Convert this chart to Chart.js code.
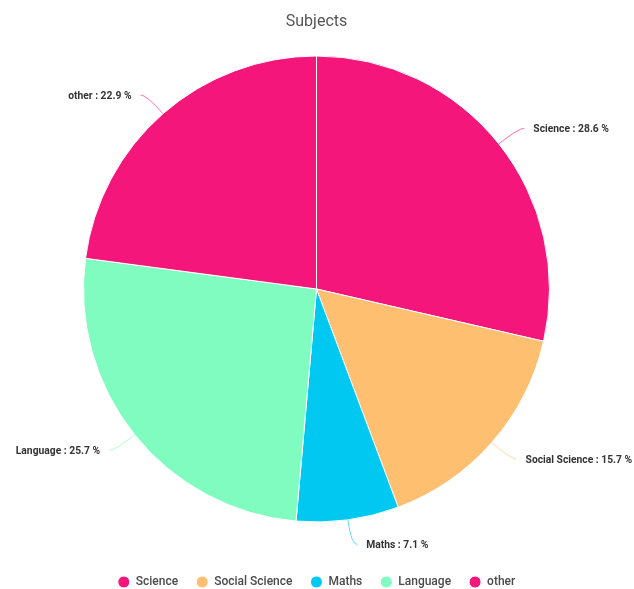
<!DOCTYPE html>
<html>
<head>
<meta charset="utf-8">
<script src="https://cdn.jsdelivr.net/npm/chart.js@4/dist/chart.umd.min.js"></script>
<style>
  html, body { margin: 0; padding: 0; background: #ffffff; overflow: hidden; }
  #wrap { width: 634px; height: 589px; }
</style>
</head>
<body>
<div id="wrap"><canvas id="chart" width="634" height="589"></canvas></div>
<script>
// Share of students by subject (percent)
const categories = ['Science', 'Social Science', 'Maths', 'Language', 'other'];
const shares = [28.6, 15.7, 7.1, 25.7, 22.9];
const sliceColors = ['#f4167b', '#ffbf71', '#00c8f0', '#80fcc0', '#f4167b'];

// Callout labels: curved leader line from the slice edge, then "name : value %"
const calloutLabels = {
  id: 'calloutLabels',
  afterDatasetsDraw(chart) {
    const ctx = chart.ctx;
    const meta = chart.getDatasetMeta(0);
    const ds = chart.data.datasets[0];
    ctx.save();
    meta.data.forEach((arc, i) => {
      const p = arc.getProps(['x', 'y', 'startAngle', 'endAngle', 'outerRadius'], true);
      const mid = (p.startAngle + p.endAngle) / 2;
      const cos = Math.cos(mid), sin = Math.sin(mid);
      const r0 = p.outerRadius;
      const r1 = p.outerRadius + 25;
      const x0 = p.x + r0 * cos, y0 = p.y + r0 * sin;
      const x1 = p.x + r1 * cos, y1 = p.y + r1 * sin;
      const dir = cos >= 0 ? 1 : -1;
      const x2 = x1 + dir * 6, y2 = y1;
      ctx.globalAlpha = 0.6;
      ctx.strokeStyle = ds.backgroundColor[i];
      ctx.lineWidth = 1;
      ctx.beginPath();
      ctx.moveTo(x0, y0);
      ctx.quadraticCurveTo(x1, y1, x2, y2);
      ctx.stroke();
      ctx.globalAlpha = 1;
      ctx.fillStyle = '#333333';
      ctx.font = 'bold 10.3px Roboto';
      ctx.textBaseline = 'middle';
      ctx.textAlign = dir > 0 ? 'left' : 'right';
      ctx.fillText(chart.data.labels[i] + ' : ' + ds.data[i].toFixed(1) + ' %', x2 + dir * 9, y2 + 1);
    });
    ctx.restore();
  }
};

new Chart(document.getElementById('chart'), {
  type: 'pie',
  data: {
    labels: categories,
    datasets: [{
      data: shares,
      backgroundColor: sliceColors,
      borderColor: '#ffffff',
      borderWidth: 1
    }]
  },
  options: {
    responsive: false,
    animation: false,
    layout: { padding: { top: 0, bottom: -9, left: 0, right: 1 } },
    plugins: {
      title: {
        display: true,
        text: 'Subjects',
        color: '#555555',
        font: { family: 'Roboto', size: 16, weight: 'normal', lineHeight: 1.2 },
        padding: { top: 12.4, bottom: 23.9 }
      },
      legend: {
        display: true,
        position: 'bottom',
        title: {
          display: true,
          text: '',
          font: { size: 12, lineHeight: 1.2 },
          padding: { top: 10, bottom: 11.1 }
        },
        labels: {
          usePointStyle: true,
          pointStyle: 'circle',
          pointStyleWidth: 12,
          boxHeight: 8.5,
          padding: 18,
          color: '#4a4a4a',
          font: { family: 'Roboto', size: 12, weight: '500' }
        }
      },
      tooltip: { enabled: false }
    }
  },
  plugins: [calloutLabels]
});
</script>
</body>
</html>
